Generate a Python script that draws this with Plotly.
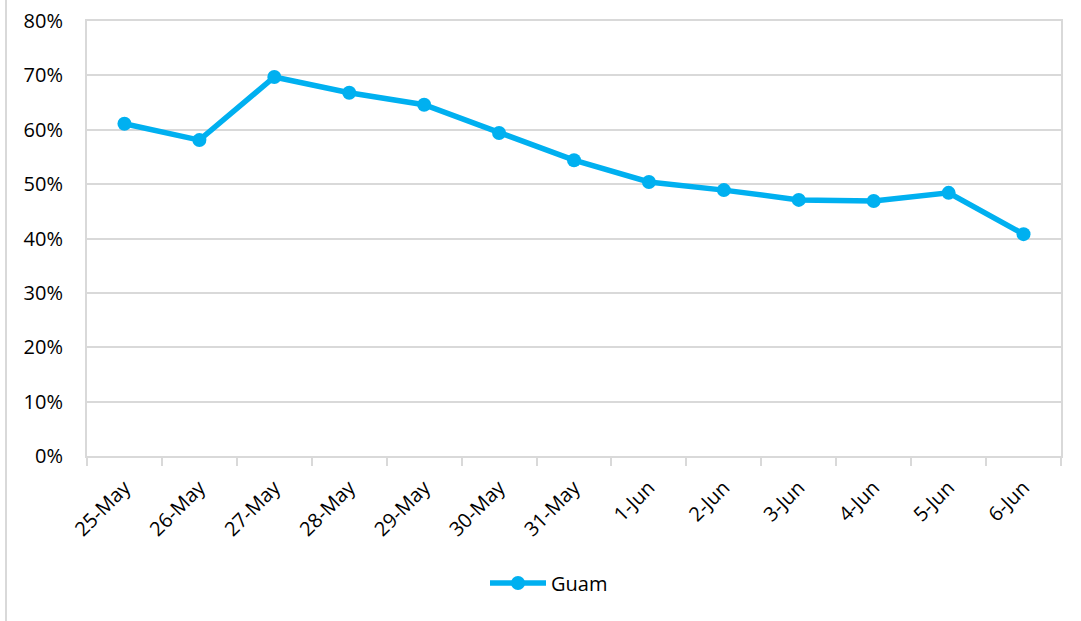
import plotly.graph_objects as go

dates = ["25-May", "26-May", "27-May", "28-May", "29-May", "30-May", "31-May",
         "1-Jun", "2-Jun", "3-Jun", "4-Jun", "5-Jun", "6-Jun"]
guam = [0.611, 0.581, 0.697, 0.668, 0.646, 0.594, 0.544,
        0.504, 0.489, 0.471, 0.469, 0.484, 0.408]
y_ticks = [0, 0.1, 0.2, 0.3, 0.4, 0.5, 0.6, 0.7, 0.8]

W, H = 1081, 621
L, R, T, B = 87, 20, 21, 165
FONT = "Open Sans, Noto Sans, sans-serif"
GRID = "#d9d9d9"

fig = go.Figure()
fig.add_trace(go.Scatter(
    x=dates, y=guam, mode="lines+markers", name="Guam",
    line=dict(color="#00B0F0", width=5.5),
    marker=dict(color="#00B0F0", size=14),
))

plot_h = H - T - B
plot_w = W - L - R
fig.add_shape(type="line", xref="paper", yref="paper",
              x0=(6 - L) / plot_w, x1=(6 - L) / plot_w,
              y0=(H - B - H) / plot_h, y1=(H - B) / plot_h,
              line=dict(color=GRID, width=2))

fig.update_layout(
    width=W, height=H,
    margin=dict(l=L, r=R, t=T, b=B, autoexpand=False),
    plot_bgcolor="white", paper_bgcolor="white",
    font=dict(family=FONT, size=20, color="#000000"),
    showlegend=True,
    legend=dict(orientation="h", x=(485 - L) / plot_w, xanchor="left",
                y=(H - B - 583) / plot_h, yanchor="middle",
                itemwidth=56, font=dict(size=20)),
    xaxis=dict(
        type="category", range=[-0.5, 12.5], tickangle=-45, automargin=False,
        tickson="boundaries", ticks="outside", ticklen=8, tickcolor=GRID, tickwidth=2,
        showgrid=False, showline=True, linecolor=GRID, linewidth=2, mirror=True,
        tickfont=dict(size=20), ticklabelstandoff=10,
    ),
    yaxis=dict(
        range=[0, 0.8], tickvals=y_ticks, tickformat=".0%", automargin=False,
        showgrid=True, gridcolor=GRID, gridwidth=2,
        showline=True, linecolor=GRID, linewidth=2, mirror=True,
        zeroline=False, ticks="", ticklen=0,
        tickfont=dict(size=20), ticklabelstandoff=18,
    ),
)

fig.write_html("out.html", config={"displayModeBar": False},
               post_script="document.body.style.margin='0';document.body.style.overflow='hidden';")
